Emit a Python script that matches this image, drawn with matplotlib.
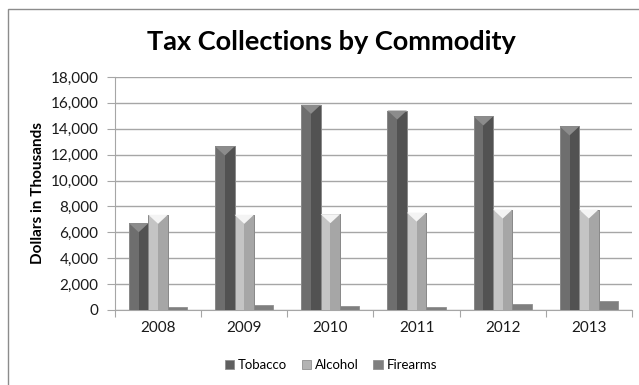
#!/usr/bin/env python3
"""Tax collections by commodity, grouped bars in an Excel-like bevel style."""

import matplotlib
matplotlib.use("Agg")
import matplotlib.pyplot as plt
from matplotlib.patches import Polygon, Rectangle
from matplotlib.ticker import FuncFormatter, MultipleLocator
import numpy as np

years = ["2008", "2009", "2010", "2011", "2012", "2013"]
tobacco = [6700, 12630, 15850, 15410, 14950, 14180]
alcohol = [7350, 7350, 7400, 7520, 7760, 7760]
firearms = [260, 390, 330, 260, 440, 720]

series = [
    ("Tobacco", tobacco, "#5f5f5f", "#6e6e6e", "#525252", "#8c8c8c"),
    ("Alcohol", alcohol, "#b3b3b3", "#c4c4c4", "#a6a6a6", "#f4f4f4"),
    ("Firearms", firearms, "#7f7f7f", "#7f7f7f", "#7f7f7f", None),
]

plt.rcParams["font.family"] = ["Lato", "DejaVu Sans"]

fig = plt.figure(figsize=(6.39, 3.85), dpi=100)
ax = fig.add_axes([0.18, 0.195, 0.809, 0.605])

x = np.arange(len(years))
width = 0.225
ymax = 18000
ax.set_xlim(-0.5, len(years) - 0.5)
ax.set_ylim(0, ymax)
# data units per pixel, used for the bevel cap
dpp = ymax / (0.605 * 385)

handles = []
for i, (name, values, face, light, dark, cap) in enumerate(series):
    bars = ax.bar(x + (i - 1) * width, values, width, color=face,
                  edgecolor="#909090", linewidth=0.6, zorder=2)
    handles.append(bars)
    for rect in bars:
        bx, bw, bh = rect.get_x(), rect.get_width(), rect.get_height()
        if cap is None:
            continue
        ax.add_patch(Rectangle((bx, 0), bw * 0.5, bh, facecolor=light,
                               edgecolor="none", zorder=3))
        ax.add_patch(Rectangle((bx + bw * 0.5, 0), bw * 0.5, bh,
                               facecolor=dark, edgecolor="none", zorder=3))
        ax.add_patch(Rectangle((bx, 0), bw, bh, facecolor="none",
                               edgecolor="#8a8a8a", linewidth=0.7, zorder=4))
        dh = 9 * dpp
        ax.add_patch(Polygon([(bx, bh), (bx + bw, bh), (bx + bw / 2, bh - dh)],
                             closed=True, facecolor=cap, edgecolor="none",
                             zorder=4))

ax.yaxis.set_major_locator(MultipleLocator(2000))
ax.yaxis.set_major_formatter(FuncFormatter(lambda v, _: f"{int(v):,}"))
ax.grid(True, axis="y", color="#a6a6a6", linewidth=1.0, zorder=0)
ax.set_axisbelow(True)

ax.set_xticks(np.arange(len(years) + 1) - 0.5)
ax.set_xticklabels([])
ax.set_xticks(x, minor=True)
ax.set_xticklabels(years, minor=True)
ax.tick_params(axis="x", which="major", length=5, color="#a6a6a6")
ax.tick_params(axis="x", which="minor", length=0, pad=8, labelsize=11,
               labelcolor="#1a1a1a")
ax.tick_params(axis="y", length=6, color="#a6a6a6", labelsize=11,
               labelcolor="#1a1a1a", pad=6)

for side in ("top", "right"):
    ax.spines[side].set_visible(False)
for side in ("left", "bottom"):
    ax.spines[side].set_color("#a6a6a6")

ax.set_ylabel("Dollars in Thousands", fontsize=11, fontweight="bold",
              labelpad=4)
fig.text(0.518, 0.89, "Tax Collections by Commodity", ha="center",
         va="center", fontsize=19.5, fontweight="bold")

fig.legend([h[0] for h in handles], [s[0] for s in series],
           loc="center", bbox_to_anchor=(0.518, 0.052), ncol=3, frameon=False,
           fontsize=9.5, handlelength=0.7, handleheight=0.7, handletextpad=0.3,
           columnspacing=1.1)

# chart-area border (cropped on right/bottom in the reference)
fig.add_artist(Rectangle((8 / 639, -0.1), 1.2, 0.1 + (385 - 9) / 385,
                         transform=fig.transFigure, facecolor="none",
                         edgecolor="#8c8c8c", linewidth=1.0))

fig.savefig("out.png", dpi=100)
